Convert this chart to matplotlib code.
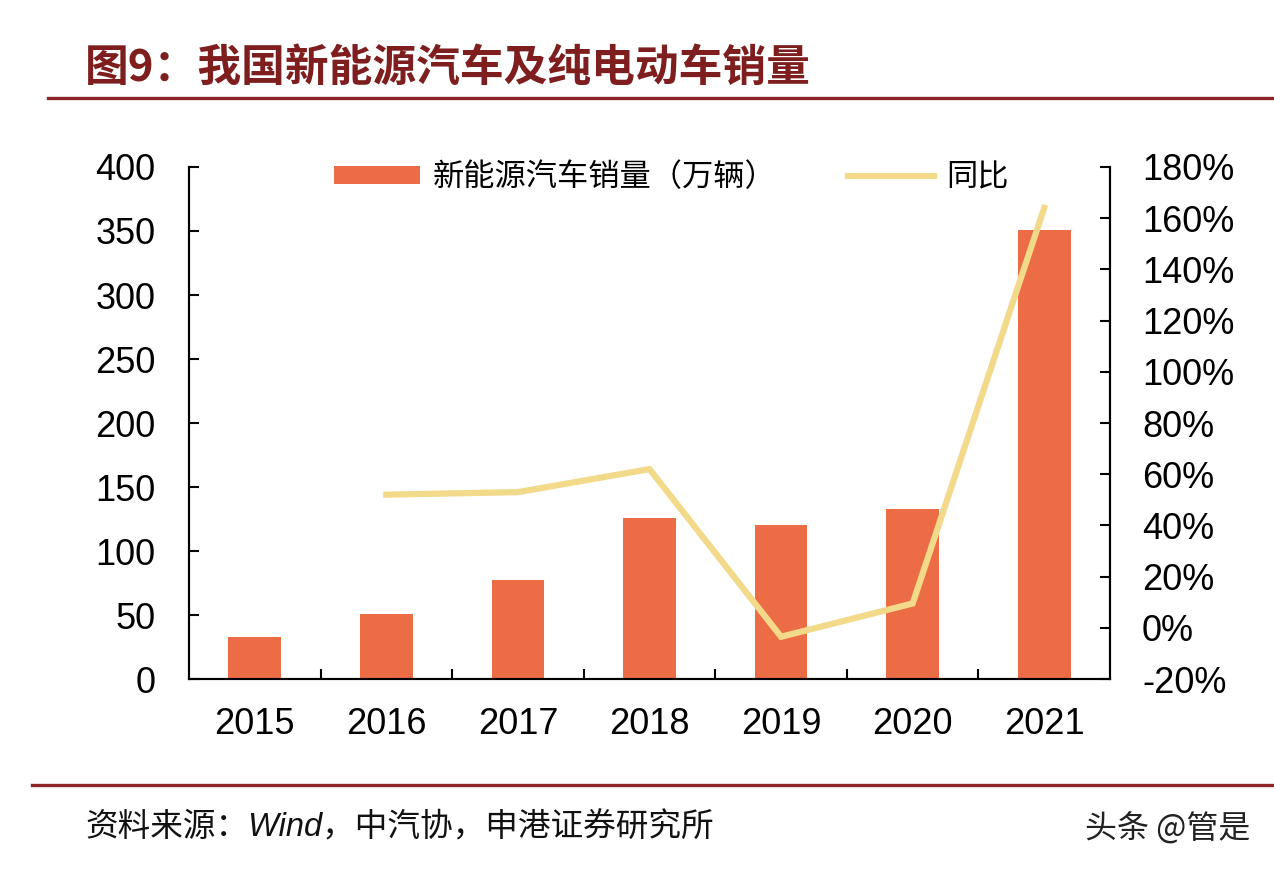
import matplotlib
matplotlib.use('Agg')
import matplotlib.pyplot as plt
from matplotlib.lines import Line2D
import numpy as np

years = ['2015', '2016', '2017', '2018', '2019', '2020', '2021']
sales = [33.1, 50.7, 77.7, 125.6, 120.0, 132.5, 351.0]  # 万辆
yoy_years = ['2016', '2017', '2018', '2019', '2020', '2021']
yoy = [52.0, 53.0, 62.0, -3.5, 9.5, 164.0]  # %

left_ticks = [0, 50, 100, 150, 200, 250, 300, 350, 400]
right_ticks = [-20, 0, 20, 40, 60, 80, 100, 120, 140, 160, 180]

bar_color = '#EC6D45'
line_color = '#F3D98A'
red_dark = '#7E1E1E'
num_font = ['Liberation Sans Narrow', 'Liberation Sans', 'DejaVu Sans']
cjk_font = ['Noto Sans CJK SC', 'DejaVu Sans']

plt.rcParams['font.family'] = num_font

fig = plt.figure(figsize=(12.74, 8.72), dpi=100)
ax = fig.add_axes([189 / 1274, 1 - 679 / 872, (1110 - 189) / 1274, (679 - 167) / 872])
ax2 = ax.twinx()

x = np.arange(len(years))
bars = ax.bar(x, sales, width=0.4, color=bar_color, label='新能源汽车销量（万辆）', zorder=2)
xl = [years.index(y) for y in yoy_years]
line, = ax2.plot(xl, yoy, color=line_color, lw=4.5, solid_joinstyle='miter',
                 label='同比', zorder=3)

ax.set_xlim(-0.5, len(years) - 0.5)
ax.set_ylim(0, 400)
ax2.set_ylim(-20, 180)
ax.set_yticks(left_ticks)
ax.set_yticklabels([str(v) for v in left_ticks])
ax2.set_yticks(right_ticks)
ax2.set_yticklabels([f'{v}%' for v in right_ticks])

ax.set_xticks(x)
ax.set_xticklabels(years)
ax.set_xticks(np.arange(0.5, len(years) - 1, 1.0), minor=True)
ax.tick_params(axis='x', which='major', length=0, pad=20, labelsize=26)
ax.tick_params(axis='x', which='minor', direction='in', length=7, width=1.5)
ax.tick_params(axis='y', direction='in', length=7, width=1.5, pad=24, labelsize=26)
ax2.tick_params(axis='y', direction='in', length=7, width=1.5, pad=23, labelsize=26)

for a in (ax, ax2):
    a.spines['top'].set_visible(False)
    for s in ('left', 'right', 'bottom'):
        a.spines[s].set_linewidth(1.5)

fig.legend(handles=[bars, line], labels=['新能源汽车销量（万辆）', '同比'],
           loc='center', bbox_to_anchor=(0.527, 0.797), bbox_transform=fig.transFigure,
           ncol=2, frameon=False, prop={'family': cjk_font, 'size': 22.5},
           handlelength=2.75, handleheight=0.55, handletextpad=0.4, columnspacing=2.3,
           borderpad=0)

# title and rules
fig.text(85 / 1274, 1 - 68 / 872, '图9：我国新能源汽车及纯电动车销量', family=cjk_font,
         fontsize=31.5, fontweight='bold', color=red_dark, va='center', ha='left')
fig.add_artist(Line2D([48 / 1274, 1], [1 - 98 / 872] * 2, color='#8B2424', lw=2.4))
fig.add_artist(Line2D([32 / 1274, 1], [1 - 785 / 872] * 2, color='#8B2424', lw=2.4))

fig.text(85 / 1274, 1 - 828 / 872, '资料来源：Wind，中汽协，申港证券研究所',
         family=['Liberation Sans', 'Noto Sans CJK SC'], style='italic',
         fontsize=23.5, color='#111111', va='center', ha='left')
fig.text(1250 / 1274, 1 - 828 / 872, '头条 @管是', family=cjk_font,
         fontsize=23, color='#222222', va='center', ha='right')

fig.savefig('out.png', dpi=100)
